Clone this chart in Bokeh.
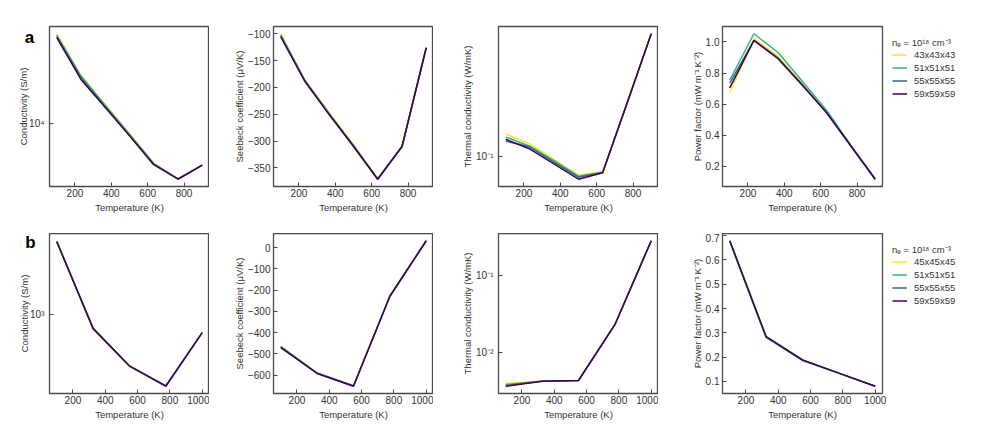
import math
from bokeh.plotting import figure
from bokeh.models import (Range1d, FixedTicker, CustomJSTickFormatter, Legend,
                          LegendItem, Label)
from bokeh.layouts import column, row
from bokeh.embed import file_html
from bokeh.resources import INLINE

# ---------------- data ----------------
T_A = [100, 233, 367, 500, 633, 767, 900]
T_B = [100, 325, 550, 775, 1000]
SIZES_A = ["43x43x43", "51x51x51", "55x55x55", "59x59x59"]
SIZES_B = ["45x45x45", "51x51x51", "55x55x55", "59x59x59"]
COLORS = ["#fde725", "#35b779", "#31688e", "#440154"]

cond_a_43 = [7.2e4, 2.9e4, 1.52e4, 8.1e3, 4.25e3, 3.0e3, 4.05e3]
cond_a_51 = [7.0e4, 2.85e4, 1.50e4, 8.0e3, 4.2e3, 3.0e3, 4.05e3]
cond_a_55 = [6.8e4, 2.75e4, 1.46e4, 7.8e3, 4.15e3, 3.0e3, 4.05e3]
cond_a_59 = [6.6e4, 2.65e4, 1.43e4, 7.7e3, 4.1e3, 2.98e3, 4.05e3]
seeb_a_43 = [-100, -186, -247, -306, -370, -310, -126]
seeb_a_51 = [-102, -187, -249, -308, -370, -310, -126]
seeb_a_55 = [-104, -188, -250, -309, -371, -310, -126]
seeb_a_59 = [-106, -189, -251, -310, -371, -310, -126]
kap_a_43 = [0.141, 0.1207, 0.0952, 0.0750, 0.0795, 0.226, 0.653]
kap_a_51 = [0.1345, 0.117, 0.0935, 0.0739, 0.0785, 0.226, 0.653]
kap_a_55 = [0.1265, 0.1154, 0.0915, 0.0728, 0.0782, 0.226, 0.653]
kap_a_59 = [0.130, 0.112, 0.0888, 0.0706, 0.0780, 0.226, 0.653]
pf_a_43 = [0.675, 1.02, 0.905, 0.73, 0.55, 0.33, 0.118]
pf_a_51 = [0.755, 1.052, 0.93, 0.745, 0.56, 0.335, 0.12]
pf_a_55 = [0.735, 1.01, 0.895, 0.725, 0.545, 0.33, 0.118]
pf_a_59 = [0.705, 1.01, 0.89, 0.72, 0.545, 0.33, 0.118]

cond_b_45 = [3100, 800, 452, 334, 760]
cond_b_51 = [3080, 805, 455, 335, 760]
cond_b_55 = [3060, 807, 455, 335, 759]
cond_b_59 = [3050, 810, 456, 335, 759]
seeb_b_45 = [-466, -590, -650, -229, 32]
seeb_b_51 = [-465, -590, -650, -229, 32]
seeb_b_55 = [-468, -591, -651, -229, 32]
seeb_b_59 = [-470, -592, -652, -229, 32]
kap_b_45 = [0.00398, 0.00430, 0.00437, 0.0229, 0.277]
kap_b_51 = [0.00388, 0.00428, 0.00436, 0.0229, 0.277]
kap_b_55 = [0.00375, 0.00427, 0.00436, 0.0229, 0.277]
kap_b_59 = [0.00368, 0.00426, 0.00436, 0.0229, 0.277]
pf_b_45 = [0.679, 0.282, 0.187, 0.134, 0.080]
pf_b_51 = [0.675, 0.280, 0.186, 0.133, 0.080]
pf_b_55 = [0.679, 0.284, 0.188, 0.134, 0.080]
pf_b_59 = [0.679, 0.284, 0.188, 0.134, 0.080]

XTICKS_A = [200, 400, 600, 800]
XTICKS_B = [200, 400, 600, 800, 1000]
YT_COND_A = [1e4]
YT_SEEB_A = [-350, -300, -250, -200, -150, -100]
YT_KAP_A = [1e-1]
YT_PF_A = [0.2, 0.4, 0.6, 0.8, 1.0]
YT_COND_B = [1e3]
YT_SEEB_B = [-600, -500, -400, -300, -200, -100, 0]
YT_KAP_B = [1e-2, 1e-1]
YT_PF_B = [0.1, 0.2, 0.3, 0.4, 0.5, 0.6, 0.7]

LBL_COND = "Conductivity (S/m)"
LBL_SEEB = "Seebeck coefficient (\u03bcV/K)"
LBL_KAP = "Thermal conductivity (W/mK)"
LBL_PF = "Power factor (mW\u2009m\u207b\u00b9\u2009K\u207b\u00b2)"
LBL_T = "Temperature (K)"
LEG_TITLE = "n\u2091 = 10\u00b9\u2078 cm\u207b\u00b3"

FONT = "Liberation Sans"
TXT = "#333333"
FRAME = "#4a4a4a"

LOG_FMT = """
const sup = {"-": "\u207b", "0": "\u2070", "1": "\u00b9", "2": "\u00b2", "3": "\u00b3",
             "4": "\u2074", "5": "\u2075", "6": "\u2076", "7": "\u2077", "8": "\u2078", "9": "\u2079"};
const e = Math.round(Math.log10(tick));
let s = "";
for (const c of String(e)) { s += sup[c]; }
return "10" + s;
"""
LIN_FMT = "return tick.toFixed(d).replace('-', '\u2212');"


def padded(vals, log=False, frac=0.05):
    if log:
        lo, hi = math.log10(min(vals)), math.log10(max(vals))
    else:
        lo, hi = min(vals), max(vals)
    m = (hi - lo) * frac
    lo, hi = lo - m, hi + m
    if log:
        return 10 ** lo, 10 ** hi
    return lo, hi


def make_fig(xs, series, log, xticks, yticks, ylabel, decimals, left, top, bottom,
             right=0, sizes=None, legend=False, label_standoff=0):
    allv = [v for s in series for v in s]
    ylo, yhi = padded(allv, log)
    xlo, xhi = padded(xs)
    p = figure(frame_width=160, frame_height=160,
               x_range=Range1d(xlo, xhi), y_range=Range1d(ylo, yhi),
               y_axis_type="log" if log else "linear",
               output_backend="svg", toolbar_location=None,
               min_border_left=left, min_border_top=top,
               min_border_bottom=bottom, min_border_right=right,
               background_fill_color="white", border_fill_color="white",
               outline_line_color=FRAME, outline_line_width=1.3)
    p.xgrid.grid_line_color = None
    p.ygrid.grid_line_color = None
    rends = []
    for s, c in zip(series, COLORS):
        rends.append(p.line(xs, s, line_color=c, line_width=1.5))
    p.xaxis.ticker = FixedTicker(ticks=xticks, minor_ticks=[])
    p.yaxis.ticker = FixedTicker(ticks=yticks, minor_ticks=[])
    p.xaxis.formatter = CustomJSTickFormatter(args=dict(d=0), code=LIN_FMT)
    if log:
        p.yaxis.formatter = CustomJSTickFormatter(code=LOG_FMT)
    else:
        p.yaxis.formatter = CustomJSTickFormatter(args=dict(d=decimals), code=LIN_FMT)
    p.xaxis.axis_label = LBL_T
    p.yaxis.axis_label = ylabel
    for ax in (p.xaxis[0], p.yaxis[0]):
        ax.axis_line_color = None
        ax.major_tick_in = 4
        ax.major_tick_out = 0
        ax.major_tick_line_color = FRAME
        ax.minor_tick_line_color = None
        ax.major_label_text_font = FONT
        ax.major_label_text_font_size = "10px"
        ax.major_label_text_color = TXT
        ax.axis_label_text_font = FONT
        ax.axis_label_text_font_size = "9.5px"
        ax.axis_label_text_font_style = "normal"
        ax.axis_label_text_color = TXT
    p.xaxis.major_label_standoff = 2
    p.xaxis.axis_label_standoff = 2
    p.yaxis.major_label_standoff = 5 if log else 3
    p.yaxis.axis_label_standoff = label_standoff
    if legend:
        items = [LegendItem(label=s, renderers=[r]) for s, r in zip(sizes, rends)]
        leg = Legend(items=items, title=LEG_TITLE, location="top_left",
                     margin=10, padding=10, spacing=2, label_height=11,
                     glyph_height=11, glyph_width=15, label_standoff=7,
                     border_line_color=None, background_fill_alpha=0,
                     label_text_font=FONT, label_text_font_size="9.5px",
                     label_text_color=TXT, title_text_font=FONT,
                     title_text_font_size="9.5px", title_text_font_style="normal",
                     title_text_color=TXT, title_standoff=0)
        p.add_layout(leg, "right")
    return p


LEFTS = [49, 64, 65, 64]
STANDOFFS = [-3, 0, 0, 0]

row_a_specs = [
    ([cond_a_43, cond_a_51, cond_a_55, cond_a_59], True, YT_COND_A, LBL_COND, 0),
    ([seeb_a_43, seeb_a_51, seeb_a_55, seeb_a_59], False, YT_SEEB_A, LBL_SEEB, 0),
    ([kap_a_43, kap_a_51, kap_a_55, kap_a_59], True, YT_KAP_A, LBL_KAP, 0),
    ([pf_a_43, pf_a_51, pf_a_55, pf_a_59], False, YT_PF_A, LBL_PF, 1),
]
row_b_specs = [
    ([cond_b_45, cond_b_51, cond_b_55, cond_b_59], True, YT_COND_B, LBL_COND, 0),
    ([seeb_b_45, seeb_b_51, seeb_b_55, seeb_b_59], False, YT_SEEB_B, LBL_SEEB, 0),
    ([kap_b_45, kap_b_51, kap_b_55, kap_b_59], True, YT_KAP_B, LBL_KAP, 0),
    ([pf_b_45, pf_b_51, pf_b_55, pf_b_59], False, YT_PF_B, LBL_PF, 1),
]

figs_a = []
for i, (ser, lg, yt, lbl, dec) in enumerate(row_a_specs):
    figs_a.append(make_fig(T_A, ser, lg, XTICKS_A, yt, lbl, dec, LEFTS[i], 26, 47,
                           sizes=SIZES_A, legend=(i == 3),
                           label_standoff=STANDOFFS[i]))
figs_b = []
for i, (ser, lg, yt, lbl, dec) in enumerate(row_b_specs):
    figs_b.append(make_fig(T_B, ser, lg, XTICKS_B, yt, lbl, dec, LEFTS[i], 0, 26,
                           sizes=SIZES_B, legend=(i == 3),
                           label_standoff=STANDOFFS[i]))

LAB = dict(text_font=FONT, text_font_size="17px", text_font_style="bold",
           text_color="black", text_align="center", text_baseline="middle",
           x_units="screen", y_units="screen")
figs_a[0].add_layout(Label(x=23, y=149, text="a", **LAB), "left")
figs_b[0].add_layout(Label(x=24, y=151, text="b", **LAB), "left")

layout = column(row(*figs_a, spacing=0), row(*figs_b, spacing=0), spacing=0)

with open("out.html", "w", encoding="utf-8") as f:
    f.write(file_html(layout, INLINE))
